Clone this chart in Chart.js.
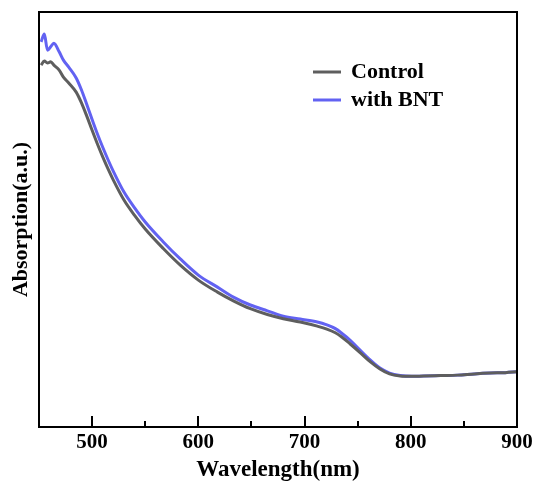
<!DOCTYPE html>
<html>
<head>
<meta charset="utf-8">
<script src="https://cdn.jsdelivr.net/npm/chart.js@4/dist/chart.umd.min.js"></script>
<style>
  html, body { margin: 0; padding: 0; background: #fff; }
  #wrap { width: 538px; height: 488px; }
</style>
</head>
<body>
<div id="wrap"><canvas id="absChart" width="538" height="488"></canvas></div>
<script>
// wavelength (nm) and absorption (a.u.)
var wavelength = [452, 455, 458, 461, 464, 469, 473, 478, 485, 490, 495, 500, 505, 510, 515, 520, 530, 540, 550, 567, 583, 600, 618, 633, 649, 665, 680, 696, 712, 721, 729, 735, 743, 752, 762, 771, 780, 790, 801, 812, 828, 844, 860, 875, 889, 900];
var control = [0.872, 0.882, 0.877, 0.880, 0.872, 0.860, 0.843, 0.829, 0.807, 0.781, 0.749, 0.715, 0.682, 0.651, 0.622, 0.595, 0.547, 0.510, 0.477, 0.430, 0.390, 0.354, 0.325, 0.304, 0.285, 0.271, 0.261, 0.253, 0.243, 0.236, 0.227, 0.217, 0.200, 0.180, 0.157, 0.140, 0.128, 0.123, 0.122, 0.123, 0.124, 0.125, 0.128, 0.130, 0.131, 0.133];
var withBNT = [0.928, 0.947, 0.908, 0.916, 0.925, 0.904, 0.884, 0.867, 0.841, 0.812, 0.777, 0.741, 0.706, 0.674, 0.644, 0.616, 0.566, 0.528, 0.494, 0.446, 0.405, 0.366, 0.337, 0.313, 0.294, 0.280, 0.267, 0.260, 0.253, 0.246, 0.237, 0.226, 0.209, 0.186, 0.161, 0.142, 0.130, 0.124, 0.122, 0.123, 0.124, 0.125, 0.128, 0.130, 0.131, 0.133];
var majorTicks = [500, 600, 700, 800, 900];
var minorTicks = [550, 650, 750, 850];
var seriesNames = ['Control', 'with BNT'];

var serif = "'Liberation Serif', 'Times New Roman', serif";

function pts(ys) {
  return wavelength.map(function(x, i) { return { x: x, y: ys[i] }; });
}

// frame, inward ticks and legend
var decor = {
  id: 'decor',
  afterDraw: function(chart) {
    var ctx = chart.ctx;
    var a = chart.chartArea;
    var xs = chart.scales.x;
    ctx.save();
    ctx.strokeStyle = '#000';
    ctx.lineWidth = 2;
    ctx.strokeRect(a.left, a.top, a.right - a.left, a.bottom - a.top);
    ctx.beginPath();
    majorTicks.forEach(function(v) {
      var px = Math.round(xs.getPixelForValue(v));
      ctx.moveTo(px, a.bottom);
      ctx.lineTo(px, a.bottom - 11);
    });
    minorTicks.forEach(function(v) {
      var px = Math.round(xs.getPixelForValue(v));
      ctx.moveTo(px, a.bottom);
      ctx.lineTo(px, a.bottom - 6);
    });
    ctx.stroke();

    // legend
    ctx.font = 'bold 22px ' + serif;
    ctx.textBaseline = 'middle';
    chart.data.datasets.forEach(function(ds, i) {
      var y = 72 + i * 28;
      ctx.strokeStyle = ds.borderColor;
      ctx.lineWidth = 3;
      ctx.beginPath();
      ctx.moveTo(313, y);
      ctx.lineTo(341, y);
      ctx.stroke();
      ctx.fillStyle = '#000';
      ctx.fillText(ds.label, 351, y);
    });
    ctx.restore();
  }
};

new Chart(document.getElementById('absChart'), {
  type: 'line',
  data: {
    datasets: [
      { label: seriesNames[0], data: pts(control), borderColor: '#5e5e5e', borderWidth: 3, pointRadius: 0, cubicInterpolationMode: 'monotone', fill: false },
      { label: seriesNames[1], data: pts(withBNT), borderColor: '#6262f2', borderWidth: 3, pointRadius: 0, cubicInterpolationMode: 'monotone', fill: false }
    ]
  },
  options: {
    responsive: false,
    animation: false,
    layout: { padding: { top: 12, right: 21, left: 0, bottom: 0 } },
    plugins: { legend: { display: false }, tooltip: { enabled: false } },
    scales: {
      x: {
        type: 'linear',
        min: 450,
        max: 900,
        afterBuildTicks: function(s) { s.ticks = majorTicks.map(function(v) { return { value: v }; }); },
        afterFit: function(s) { s.height = 61; },
        grid: { display: false },
        border: { display: false },
        ticks: { color: '#000', padding: -5, maxRotation: 0, font: { family: serif, size: 21, weight: 'bold' } },
        title: { display: true, text: 'Wavelength(nm)', color: '#000', padding: { top: 3 }, font: { family: serif, size: 23, weight: 'bold' } }
      },
      y: {
        min: 0,
        max: 1,
        afterFit: function(s) { s.width = 39; },
        grid: { display: false },
        border: { display: false },
        ticks: { display: false },
        title: { display: true, text: 'Absorption(a.u.)', color: '#000', padding: { top: 8, bottom: 0 }, font: { family: serif, size: 22, weight: 'bold' } }
      }
    }
  },
  plugins: [decor]
});
</script>
</body>
</html>
